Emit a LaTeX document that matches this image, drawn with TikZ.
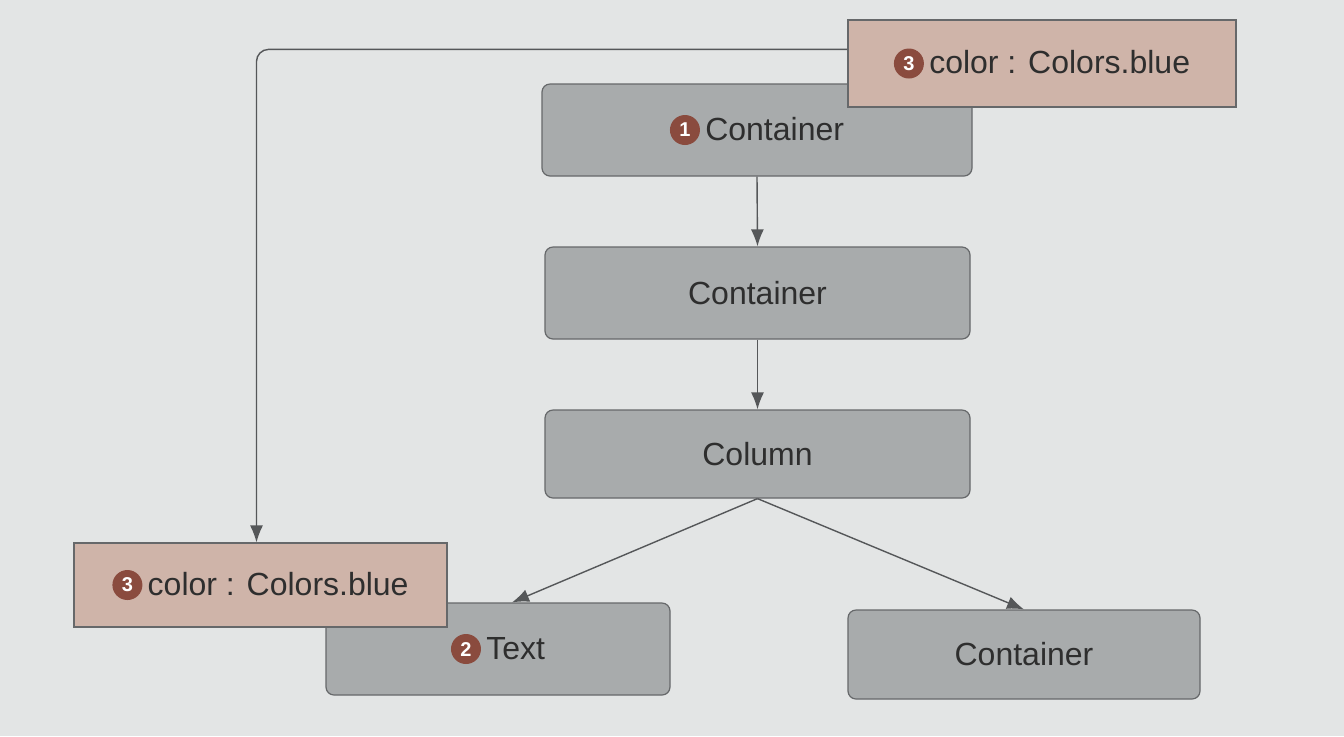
\documentclass[tikz,border=0pt]{standalone}
\usepackage{fontspec}
\setmainfont{Liberation Sans}
\usetikzlibrary{arrows.meta,calc}
\definecolor{bg}{HTML}{E3E5E5}
\definecolor{boxgray}{HTML}{A8ABAC}
\definecolor{boxpink}{HTML}{CFB4A9}
\definecolor{badgecol}{HTML}{8A4B3E}
\definecolor{linecol}{HTML}{555759}
\definecolor{txtcol}{HTML}{2E2E2E}
\newcommand{\badgenum}[1]{\tikz[baseline=-0.62ex]\node[circle,fill=badgecol,text=white,inner sep=0pt,minimum size=15pt,font=\bfseries\fontsize{10}{10}\selectfont]{#1};}
\tikzset{
  graybox/.style={draw=linecol!90,line width=0.6pt,fill=boxgray,rounded corners=4pt,text=txtcol,font=\fontsize{16}{18}\selectfont,inner sep=0pt},
  pinkbox/.style={draw=linecol!90,line width=0.6pt,fill=boxpink,text=txtcol,font=\fontsize{16}{18}\selectfont,inner sep=0pt},
  conn/.style={draw=linecol,line width=0.7pt,-{Latex[length=8.5pt,width=6.5pt]}},
}
\begin{document}
\begin{tikzpicture}[x=0.5pt,y=-0.5pt]
\useasboundingbox (0,0) rectangle (1344,736);
\fill[bg] (0,0) rectangle (1344,736);
% gray nodes
\node[graybox,minimum width=215pt,minimum height=46pt] (c1) at (757,130) {\badgenum{1}\,Container};
\node[graybox,minimum width=212.5pt,minimum height=46pt] (c2) at (757.5,293) {Container};
\node[graybox,minimum width=212.5pt,minimum height=44pt] (col) at (757.5,454) {Column};
\node[graybox,minimum width=172pt,minimum height=46pt] (txt) at (498,649) {\badgenum{2}\,Text};
\node[graybox,minimum width=176pt,minimum height=44.5pt] (c3) at (1024,654.5) {Container};
% pink nodes (on top)
\node[pinkbox,minimum width=194pt,minimum height=43.5pt] (p1) at (1042,63.5) {\badgenum{3}\,color : Colors.blue};
\node[pinkbox,minimum width=186.5pt,minimum height=42pt] (p2) at (260.5,585) {\badgenum{3}\,color : Colors.blue};
% connectors
\draw[conn] (c1.south) -- (c2.north);
\draw[conn] (c2.south) -- (col.north);
\draw[conn] (col.south) -- ($(txt.north)+(14,0)$);
\draw[conn] (col.south) -- (c3.north);
\draw[conn,rounded corners=6pt] ($(p1.north west)+(0,30)$) -| ($(p2.north)+(-4,0)$);
\end{tikzpicture}
\end{document}
